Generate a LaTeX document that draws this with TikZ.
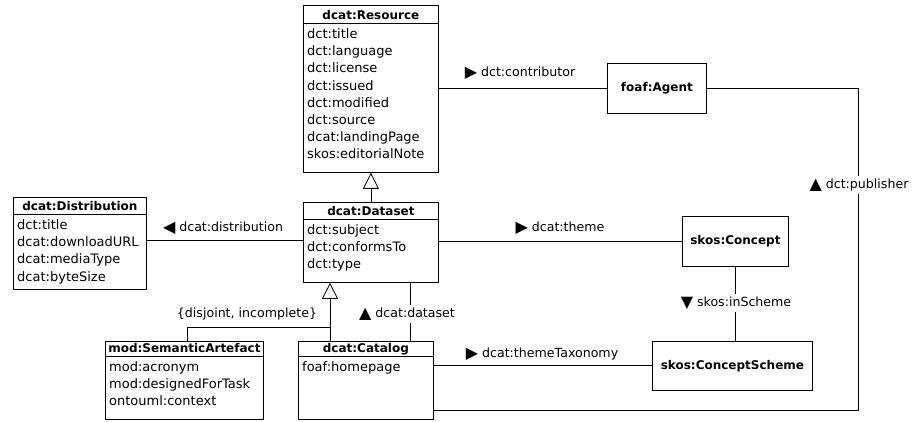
\documentclass[tikz,border=0pt]{standalone}
\usepackage{fontspec}
\setmainfont{DejaVu Sans}
\usetikzlibrary{arrows.meta,calc}
\tikzset{
  cls/.style={draw, line width=0.8pt, fill=white, inner sep=0pt},
  hdr/.style={font=\fontsize{12}{14}\selectfont\bfseries, inner sep=0pt},
  attr/.style={font=\fontsize{13}{17.2}\selectfont, align=left, inner sep=0pt},
  edge/.style={draw, line width=0.8pt},
  lbl/.style={font=\fontsize{12.6}{15}\selectfont, inner sep=1pt},
  onlbl/.style={lbl, fill=white, inner sep=3pt},
  gen/.style={edge, -{Triangle[open, length=16pt, width=16pt, line width=0.8pt]}},
  named/.style={cls, font=\fontsize{12}{14}\selectfont\bfseries},
}
\newcommand{\Tri}[1]{{\fontsize{16}{15}\selectfont\raisebox{-0.5pt}{#1}}}
% #1 name, #2 x, #3 y, #4 width, #5 height, #6 header height, #7 title, #8 attributes
\newcommand{\UMLclass}[8]{%
  \node[cls, minimum width=#4, minimum height=#5, anchor=north west] (#1) at (#2,#3) {};
  \draw[line width=0.8pt] ($(#1.north west)+(0,#6)$) -- ($(#1.north east)+(0,#6)$);
  \node[hdr, anchor=base] at ($(#1.north)+(0,#6-3.5)$) {#7};
  \node[attr, anchor=north west] at ($(#1.north west)+(4,#6+5.5)$) {#8};
}
\begin{document}
\begin{tikzpicture}[x=1pt,y=-1pt]
\useasboundingbox (0,0) rectangle (913,422);

\UMLclass{res}{303}{5}{135}{167}{18}{dcat:Resource}{dct:title\\dct:language\\dct:license\\dct:issued\\dct:modified\\dct:source\\dcat:landingPage\\skos:editorialNote}
\UMLclass{dist}{13}{197}{133}{92}{17}{dcat:Distribution}{dct:title\\dcat:downloadURL\\dcat:mediaType\\dcat:byteSize}
\UMLclass{ds}{303}{202}{135}{80}{17}{dcat:Dataset}{dct:subject\\dct:conformsTo\\dct:type}
\UMLclass{sa}{105}{341}{158}{78}{15}{mod:SemanticArtefact}{mod:acronym\\mod:designedForTask\\ontouml:context}
\UMLclass{cat}{298}{341}{135}{78}{15}{dcat:Catalog}{foaf:homepage}

\node[named, minimum width=99, minimum height=50, anchor=north west] (agent) at (607,63) {foaf:Agent};
\node[named, minimum width=106, minimum height=50, anchor=north west] (concept) at (682,216) {skos:Concept};
\node[named, minimum width=160, minimum height=49, anchor=north west] (scheme) at (652,341) {skos:ConceptScheme};

% helper coordinates
\coordinate (pubX) at (858,0);
\coordinate (pubY) at (0,410);
\coordinate (distY) at (0,240);
\coordinate (taxY) at (0,365);
\coordinate (dsX) at (410,0);
\coordinate (genJ) at (330,327);
\coordinate (saX) at (187,0);

% dct:contributor
\draw[edge] (res.east |- agent.west) -- (agent.west);
\node[lbl] (lcontrib) at (520,73) {\Tri{▶} dct:contributor};

% dct:publisher
\draw[edge] (cat.east |- pubY) -- (pubX |- pubY) -- (pubX |- agent.east) -- (agent.east);
\node[onlbl] (lpub) at (859,185) {\Tri{▲} dct:publisher};

% dcat:distribution
\draw[edge] (dist.east |- distY) -- (ds.west |- distY);
\node[lbl] (ldist) at (223,228) {\Tri{◀} dcat:distribution};

% dcat:theme
\draw[edge] (ds.east |- concept.west) -- (concept.west);
\node[lbl] (ltheme) at (560,228) {\Tri{▶} dcat:theme};

% skos:inScheme
\draw[edge] (concept.south) -- (concept.south |- scheme.north);
\node[onlbl] (lscheme) at (736,303) {\Tri{▼} skos:inScheme};

% dcat:themeTaxonomy
\draw[edge] (cat.east |- taxY) -- (scheme.west |- taxY);
\node[lbl] (ltax) at (542,354) {\Tri{▶} dcat:themeTaxonomy};

% dcat:dataset
\draw[edge] (ds.south -| dsX) -- (cat.north -| dsX);
\node[onlbl] (lds) at (407,314) {\Tri{▲} dcat:dataset};

% generalisations
\draw[gen] (ds.north) -- (res.south);
\draw[gen] (genJ) -- (ds.south -| genJ);
\draw[edge] (cat.north -| genJ) -- (genJ) -- (saX |- genJ) -- (sa.north -| saX);
\node[lbl] (ldisj) at (247,314) {\{disjoint, incomplete\}};
\end{tikzpicture}
\end{document}
